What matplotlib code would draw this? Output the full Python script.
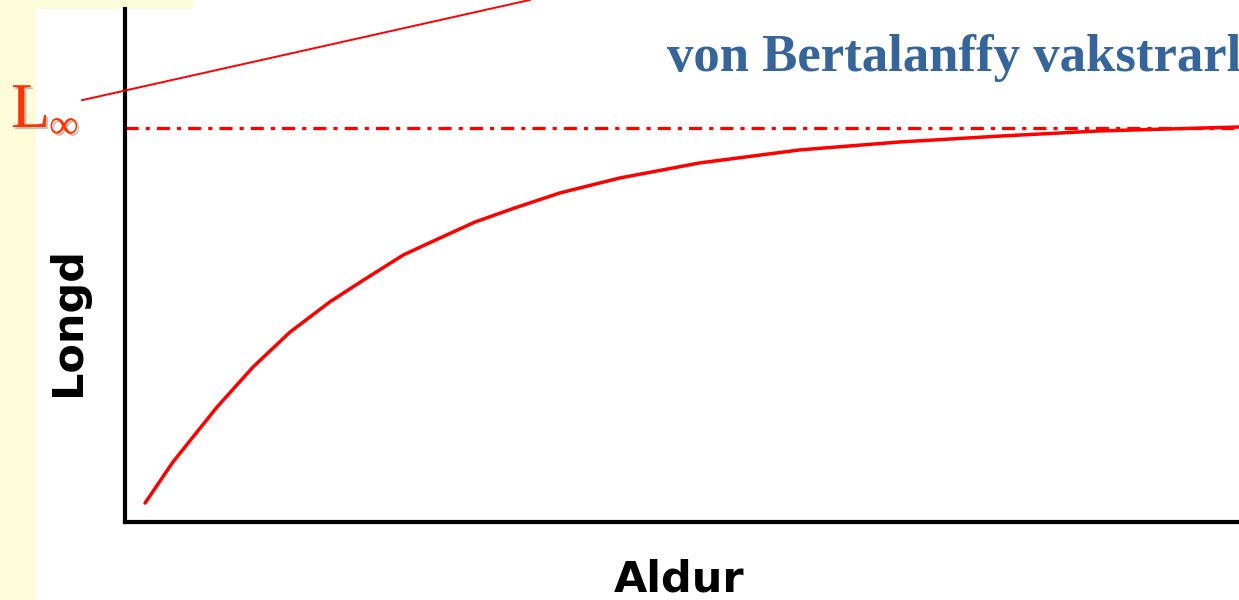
import matplotlib
matplotlib.use("Agg")
import matplotlib.pyplot as plt
import matplotlib.patheffects as pe
from matplotlib.patches import Rectangle

# von Bertalanffy growth curve, age vs length
age = [0.36, 0.86, 1.65, 2.3, 2.96, 3.68, 4.27, 5.0, 5.66, 6.28, 7.0, 7.81, 8.89,
       10.32, 12.12, 13.91, 15.71, 17.5, 20.0]
length = [4.8, 15.2, 29.1, 39.3, 48.1, 55.8, 61.2, 67.7, 72.0, 76.0, 79.6, 83.4, 87.2,
          91.0, 94.3, 96.3, 97.8, 99.1, 100.1]
L_inf = 99.8

# pointer line from the L-infinity label
pointer_age = [-0.77, 7.27]
pointer_len = [106.9, 132.3]

title = "von Bertalanffy vakstrarlíkan"
x_label = "Aldur"
y_label = "Longd"

fig = plt.figure(figsize=(12.39, 6.0), dpi=100)
fig.patch.set_facecolor("white")

# pale yellow slide border on the left and top
yellow = "#fdfcda"
fig.patches.append(Rectangle((0, 0), 36 / 1239, 1, transform=fig.transFigure,
                             facecolor=yellow, edgecolor="none", zorder=-5))
fig.patches.append(Rectangle((0, 1 - 9 / 600), 193 / 1239, 9 / 600, transform=fig.transFigure,
                             facecolor=yellow, edgecolor="none", zorder=-5))

ax = fig.add_axes([125 / 1239, 78 / 600, 1114 / 1239, 513 / 600])
ax.set_facecolor("none")
ax.set_xlim(0, 20)
ax.set_ylim(0, 130)

for side in ["top", "right"]:
    ax.spines[side].set_visible(False)
for side in ["left", "bottom"]:
    ax.spines[side].set_linewidth(3)
    ax.spines[side].set_color("black")
ax.set_xticks([])
ax.set_yticks([])

ax.axhline(L_inf, color="red", lw=2.3, linestyle=(0, (4.1, 2.2, 1.3, 2.2)), zorder=2)
ax.plot(age, length, color="red", lw=2.5, zorder=3, solid_capstyle="round",
        solid_joinstyle="round")
ax.plot(pointer_age, pointer_len, color="red", lw=1.4, clip_on=False, zorder=3)

shadow = [pe.SimplePatchShadow(offset=(1.5, -1.5), shadow_rgbFace="#999999", alpha=0.6), pe.Normal()]
fig.text(11 / 1239, 1 - 127 / 600, "L", fontsize=46, family="Liberation Serif",
         color="#ff3300", ha="left", va="baseline", path_effects=shadow)
fig.text(49 / 1239, 1 - 138 / 600, "∞", fontsize=30, family=["Liberation Serif", "DejaVu Serif"],
         color="#ff3300", ha="left", va="baseline", path_effects=shadow)

fig.text(667 / 1239, 1 - 71 / 600, title, fontsize=38, family="Liberation Serif",
         fontweight="bold", color="#35659a", ha="left", va="baseline")

fig.text(679 / 1239, 1 - 592 / 600, x_label, fontsize=31, fontweight="bold",
         family="DejaVu Sans", ha="center", va="baseline")
fig.text(68 / 1239, 1 - 321 / 600, y_label, fontsize=31, fontweight="bold",
         family="DejaVu Sans", ha="center", va="center", rotation=90)

fig.savefig("out.png", dpi=100)
